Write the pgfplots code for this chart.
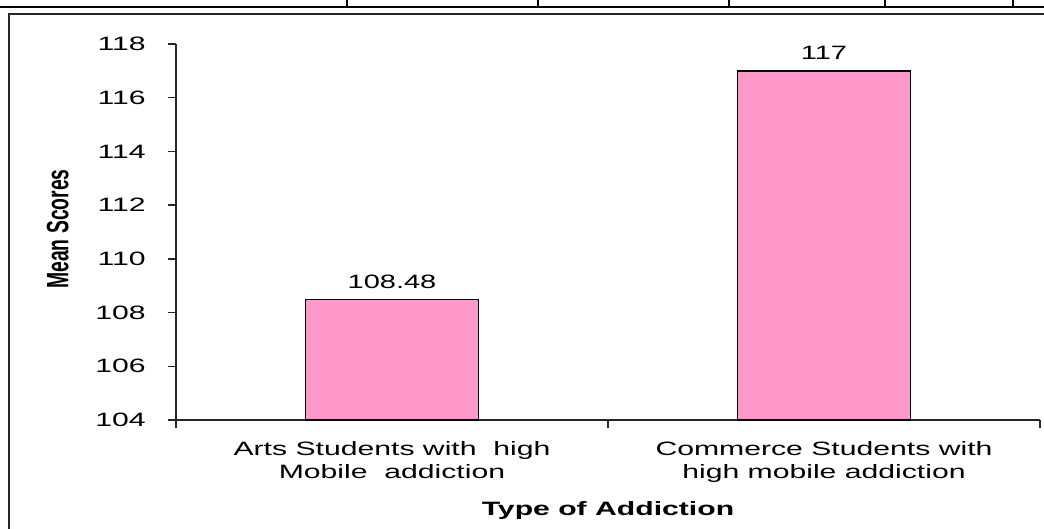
\documentclass[border=0pt]{standalone}
\usepackage{pgfplots}
\pgfplotsset{compat=1.18}
\usepackage{fontspec}
\setmainfont{Liberation Sans}
\definecolor{barpink}{HTML}{FF99CC}
\newcommand{\chartfont}{\fontsize{14.5pt}{17.5pt}\selectfont}
\begin{document}
\begin{tikzpicture}[x=0.75pt,y=0.75pt]
\useasboundingbox (0,0) rectangle (1044,528);
% table rule and cell separators above the figure
\draw[line width=1.8pt] (0,520.7) -- (1044,520.7);
\foreach \cx in {347,538,729,885,1013}
  \draw[line width=1.5pt] (\cx,520.7) -- (\cx,530);
% figure frame
\draw[line width=1.4pt, black!85] (9,-5) -- (9,514) -- (1050,514);
\begin{axis}[
  at={(132pt,81pt)}, anchor=south west,
  scale only axis,
  width=648pt, height=282pt,
  axis x line*=bottom, axis y line*=left,
  axis line style={line width=1.1pt, black!85},
  xmin=0.5, xmax=2.5, ymin=104, ymax=118,
  enlargelimits=false,
  ytick={104,106,...,118},
  xtick={0.5,1.5,2.5},
  x tick label as interval,
  xticklabels={{Arts Students with\ \ high\\Mobile\ \ addiction},{Commerce Students with\\high mobile addiction}},
  tick align=outside,
  major tick length=6pt,
  tick style={line width=1.1pt, black!85},
  /pgf/number format/assume math mode=true,
  ticklabel style={font=\chartfont, xscale=1.56, inner sep=0pt},
  yticklabel style={anchor=east, xshift=-10.5pt},
  xticklabel style={align=center, anchor=north, yshift=-10pt},
  xlabel={\textbf{Type of Addiction}},
  xlabel style={font=\chartfont, xscale=1.56, inner sep=0pt, anchor=north, at={(axis description cs:0.5,0)}, yshift=-61pt},
  ylabel={\scalebox{1.6}[1]{\rotatebox{90}{\textbf{Mean Scores}}}},
  ylabel style={font=\chartfont, rotate=-90, anchor=center, inner sep=0pt, at={(axis description cs:-0.137,0.508)}},
  ybar, bar width=0.4,
  nodes near coords,
  point meta=explicit symbolic,
  nodes near coords style={font=\chartfont, xscale=1.5, inner sep=0pt, anchor=south, yshift=8pt},
]
\addplot[fill=barpink, draw=black, line width=1pt] coordinates {
  (1,108.48) [108.48]
  (2,117)    [117]
};
\end{axis}
\end{tikzpicture}
\end{document}
